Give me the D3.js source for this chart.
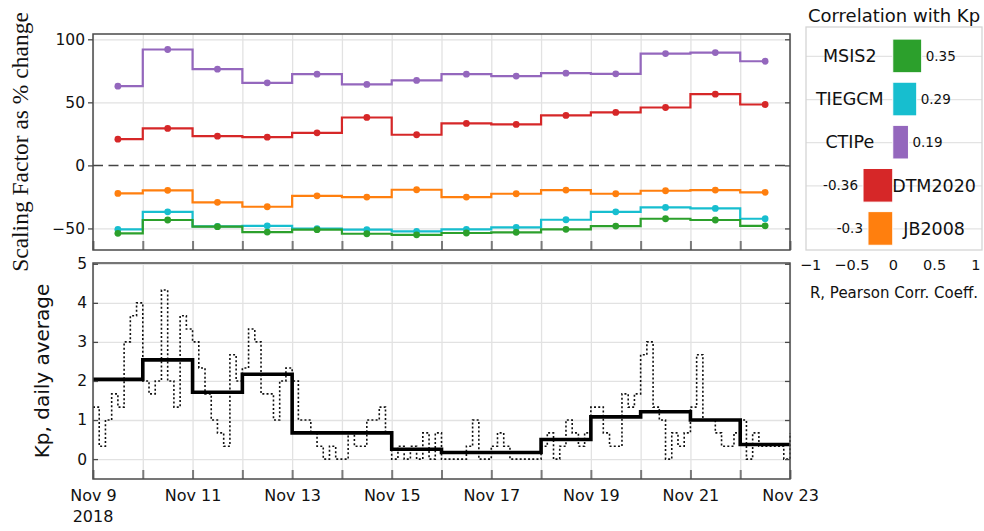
<!DOCTYPE html>
<html>
<head>
<meta charset="utf-8">
<script src="https://cdn.jsdelivr.net/npm/d3@7"></script>
<style>
  html, body { margin: 0; padding: 0; background: #fff; }
  svg { display: block; font-family: "DejaVu Sans", sans-serif; }
</style>
</head>
<body>
<svg id="chart" width="984" height="531"></svg>
<script>
// ---- data -------------------------------------------------------------
const days = ["2018-11-09", "2018-11-10", "2018-11-11", "2018-11-12", "2018-11-13",
              "2018-11-14", "2018-11-15", "2018-11-16", "2018-11-17", "2018-11-18",
              "2018-11-19", "2018-11-20", "2018-11-21", "2018-11-22"];
const endDay = "2018-11-23";

// daily scaling factor (% change) per model
const ctipe   = [62.8, 91.9, 76.3, 65.5, 72.3, 64.2, 67.4, 72.3, 70.8, 73.1, 72.6, 88.7, 89.5, 82.6];
const dtm2020 = [20.8, 29.3, 23.2, 22.4, 25.8, 38.0, 24.3, 33.3, 32.5, 39.6, 42.0, 45.9, 56.5, 48.3];
const jb2008  = [-22.2, -19.8, -29.3, -32.8, -24.1, -25.1, -19.3, -25.1, -22.5, -19.6, -22.5, -20.1, -19.6, -21.4];
const tiegcm  = [-50.7, -36.8, -48.3, -47.9, -50.2, -51.0, -52.3, -50.7, -49.1, -43.1, -36.8, -33.3, -34.1, -42.3];
const msis2   = [-53.9, -43.3, -48.6, -52.9, -51.0, -54.2, -55.1, -53.6, -53.1, -50.7, -48.1, -42.3, -43.3, -47.9];

// Kp daily average and 3-hourly Kp (8 values per day, last entry = Nov 23 00 UT)
const kpDaily = [2.04, 2.54, 1.71, 2.17, 0.67, 0.67, 0.25, 0.17, 0.17, 0.5, 1.08, 1.21, 1.0, 0.375];
const kp3h = [
  1.33, 0.33, 1.0, 1.67, 1.33, 3.0, 3.67, 4.0,
  2.0, 1.67, 2.0, 4.33, 2.0, 1.33, 3.67, 3.33,
  3.0, 2.33, 1.67, 1.0, 0.67, 0.33, 2.67, 2.0,
  2.33, 3.33, 3.0, 1.67, 1.67, 1.0, 2.0, 2.33,
  2.0, 1.0, 1.0, 0.67, 0.33, 0.0, 0.33, 0.0,
  0.0, 0.67, 0.33, 0.33, 1.0, 1.0, 1.33, 0.67,
  0.0, 0.33, 0.0, 0.33, 0.0, 0.67, 0.0, 0.67,
  0.0, 0.0, 0.0, 0.0, 0.33, 1.0, 0.0, 0.0,
  0.33, 0.67, 0.33, 0.0, 0.0, 0.0, 0.0, 0.0,
  0.33, 0.67, 0.0, 0.33, 1.0, 0.67, 0.33, 0.67,
  1.33, 1.33, 0.67, 0.33, 0.33, 1.67, 1.33, 1.67,
  2.67, 3.0, 1.33, 1.0, 0.0, 0.67, 0.33, 0.67,
  1.33, 2.67, 1.0, 1.0, 0.67, 0.33, 0.33, 0.67,
  1.0, 0.0, 0.67, 0.33, 0.33, 0.33, 0.33, 0.0,
  0.67
];

// correlation of each model with Kp
const corrModels = ["MSIS2", "TIEGCM", "CTIPe", "DTM2020", "JB2008"];
const corrValues = [0.35, 0.29, 0.19, -0.36, -0.3];
const corrLabels = ["0.35", "0.29", "0.19", "-0.36", "-0.3"];

const topTicks = [-50, 0, 50, 100];
const kpTicks = [0, 1, 2, 3, 4, 5];
const corrTicks = [-1, -0.5, 0, 0.5, 1];

const modelColors = {
  CTIPe: "#9467bd", DTM2020: "#d62728", JB2008: "#ff7f0e", TIEGCM: "#17becf", MSIS2: "#2ca02c"
};
const seriesOrder = [
  ["CTIPe", ctipe], ["DTM2020", dtm2020], ["JB2008", jb2008], ["TIEGCM", tiegcm], ["MSIS2", msis2]
];

// ---- layout ------------------------------------------------------------
const svg = d3.select("#chart");
const parse = d3.utcParse("%Y-%m-%d");
const dayDates = days.map(parse);
const t0 = dayDates[0], t1 = parse(endDay);

const L = 93, R = 790;
const topBox = { y0: 34, y1: 250 };
const botBox = { y0: 263, y1: 479 };

const x = d3.scaleUtc().domain([t0, t1]).range([L, R]);
const yTop = d3.scaleLinear().domain([-67.1, 104.2]).range([topBox.y1, topBox.y0]);
const yKp = d3.scaleLinear().domain([-0.51, 5.02]).range([botBox.y1, botBox.y0]);

const gridColor = "#e2e2e2";
const spineColor = "#4a4a4a";
const minusFmt = d => String(d).replace("-", "\u2212");

function grid(g, yScale, yVals, box) {
  g.append("g")
    .attr("transform", `translate(0,${box.y1})`)
    .call(d3.axisBottom(x).ticks(d3.utcDay.every(1)).tickSize(-(box.y1 - box.y0)).tickFormat(""))
    .call(a => a.select(".domain").remove())
    .call(a => a.selectAll("line").attr("stroke", gridColor).attr("stroke-width", 1.3));
  g.append("g")
    .attr("transform", `translate(${L},0)`)
    .call(d3.axisLeft(yScale).tickValues(yVals).tickSize(-(R - L)).tickFormat(""))
    .call(a => a.select(".domain").remove())
    .call(a => a.selectAll("line").attr("stroke", gridColor).attr("stroke-width", 1.3));
}

function dayTicks(g, box) {
  g.append("g")
    .attr("transform", `translate(0,${box.y1})`)
    .call(d3.axisTop(x).ticks(d3.utcDay.every(1)).tickSize(9).tickFormat(""))
    .call(a => a.select(".domain").remove())
    .call(a => a.selectAll("line").attr("stroke", "#7a7a7a").attr("stroke-width", 2));
}

function frame(g, box) {
  g.append("rect")
    .attr("x", L).attr("y", box.y0)
    .attr("width", R - L).attr("height", box.y1 - box.y0)
    .attr("fill", "none").attr("stroke", spineColor).attr("stroke-width", 1.5);
}

// ---- top panel: scaling factors ---------------------------------------
const gTop = svg.append("g");
grid(gTop, yTop, topTicks.filter(v => v !== 0), topBox);

gTop.append("line")
  .attr("x1", L).attr("x2", R)
  .attr("y1", yTop(0)).attr("y2", yTop(0))
  .attr("stroke", "#444").attr("stroke-width", 1.5).attr("stroke-dasharray", "10,5.5");

const stepLine = d3.line()
  .x(d => x(d3.utcHour.offset(d.date, 12)))
  .y(d => yTop(d.v))
  .curve(d3.curveStep);

seriesOrder.forEach(([name, vals]) => {
  const pts = vals.map((v, i) => ({ date: dayDates[i], v }));
  const col = modelColors[name];
  gTop.append("path").datum(pts)
    .attr("d", stepLine)
    .attr("fill", "none").attr("stroke", col).attr("stroke-width", 2.2);
  gTop.append("g").selectAll("circle").data(pts).join("circle")
    .attr("cx", d => x(d3.utcHour.offset(d.date, 12)))
    .attr("cy", d => yTop(d.v))
    .attr("r", 3.4).attr("fill", col);
});

dayTicks(gTop, topBox);
frame(gTop, topBox);

gTop.append("g")
  .attr("transform", `translate(${L},0)`)
  .call(d3.axisLeft(yTop).tickValues(topTicks).tickSize(5).tickPadding(3).tickFormat(minusFmt))
  .call(a => a.select(".domain").remove())
  .call(a => a.selectAll("line").attr("stroke", spineColor).attr("stroke-width", 1.3))
  .call(a => a.selectAll("text").attr("font-size", 15.5).attr("fill", "#111")
             .attr("font-family", "DejaVu Sans"));
gTop.append("g")
  .attr("transform", `translate(${R},0)`)
  .call(d3.axisLeft(yTop).tickValues(topTicks).tickSize(5).tickFormat(""))
  .call(a => a.select(".domain").remove())
  .call(a => a.selectAll("line").attr("stroke", spineColor).attr("stroke-width", 1.3));

svg.append("text")
  .attr("transform", `translate(28,${(topBox.y0 + topBox.y1) / 2}) rotate(-90)`)
  .attr("text-anchor", "middle")
  .attr("font-family", "Liberation Serif, serif")
  .attr("font-size", 23.5)
  .attr("fill", "#111")
  .text("Scaling Factor as % change");

// ---- bottom panel: Kp ------------------------------------------------
const gBot = svg.append("g");
grid(gBot, yKp, kpTicks, botBox);

const kpPts = kp3h.map((v, i) => ({ date: d3.utcHour.offset(t0, 3 * i), v }));
gBot.append("path").datum(kpPts)
  .attr("d", d3.line().x(d => x(d.date)).y(d => yKp(d.v)).curve(d3.curveStepAfter))
  .attr("fill", "none").attr("stroke", "#111").attr("stroke-width", 1.6)
  .attr("stroke-dasharray", "2,2.2");

const dailyPts = kpDaily.map((v, i) => ({ date: dayDates[i], v }));
dailyPts.push({ date: t1, v: kpDaily[kpDaily.length - 1] });
gBot.append("path").datum(dailyPts)
  .attr("d", d3.line().x(d => x(d.date)).y(d => yKp(d.v)).curve(d3.curveStepAfter))
  .attr("fill", "none").attr("stroke", "#000").attr("stroke-width", 3.6);

dayTicks(gBot, botBox);
frame(gBot, botBox);

gBot.append("g")
  .attr("transform", `translate(${L},0)`)
  .call(d3.axisLeft(yKp).tickValues(kpTicks).tickSizeInner(-5).tickSizeOuter(0).tickPadding(6)
        .tickFormat(d3.format("d")))
  .call(a => a.select(".domain").remove())
  .call(a => a.selectAll("line").attr("stroke", spineColor).attr("stroke-width", 1.3))
  .call(a => a.selectAll("text").attr("font-size", 15.5).attr("fill", "#111")
             .attr("font-family", "DejaVu Sans"));
gBot.append("g")
  .attr("transform", `translate(${R},0)`)
  .call(d3.axisLeft(yKp).tickValues(kpTicks).tickSize(5).tickFormat(""))
  .call(a => a.select(".domain").remove())
  .call(a => a.selectAll("line").attr("stroke", spineColor).attr("stroke-width", 1.3));

const labelDays = dayDates.filter((d, i) => i % 2 === 0).concat([t1]);
gBot.append("g")
  .attr("transform", `translate(0,${botBox.y1})`)
  .call(d3.axisBottom(x).tickValues(labelDays).tickSize(0).tickPadding(11)
        .tickFormat(d3.utcFormat("%b %-d")))
  .call(a => a.select(".domain").remove())
  .call(a => a.selectAll("text").attr("font-size", 16).attr("fill", "#111")
             .attr("font-family", "DejaVu Sans"));
svg.append("text")
  .attr("x", x(t0)).attr("y", 521.5)
  .attr("text-anchor", "middle").attr("font-size", 16).attr("fill", "#111")
  .text(d3.utcFormat("%Y")(t0));

svg.append("text")
  .attr("transform", `translate(48.5,${(botBox.y0 + botBox.y1) / 2}) rotate(-90)`)
  .attr("text-anchor", "middle")
  .attr("font-size", 20)
  .attr("fill", "#111")
  .text("Kp, daily average");

// ---- right panel: correlation bars -------------------------------------
const bBox = { x0: 806, x1: 982, y0: 27, y1: 250 };
const xb = d3.scaleLinear().domain([-1.05, 1.08]).range([bBox.x0, bBox.x1]);
const yb = d3.scaleLinear().domain([-0.67, 4.5]).range([bBox.y0, bBox.y1]);
const barH = 0.78;
const gBar = svg.append("g");

gBar.append("g")
  .attr("transform", `translate(${bBox.x0},0)`)
  .call(d3.axisLeft(yb).tickValues(d3.range(corrModels.length)).tickSize(-(bBox.x1 - bBox.x0)).tickFormat(""))
  .call(a => a.select(".domain").remove())
  .call(a => a.selectAll("line").attr("stroke", "#e3e3e3").attr("stroke-width", 1.3));

gBar.append("rect")
  .attr("x", bBox.x0).attr("y", bBox.y0)
  .attr("width", bBox.x1 - bBox.x0).attr("height", bBox.y1 - bBox.y0)
  .attr("fill", "none").attr("stroke", "#d4d4d4").attr("stroke-width", 1.3);

gBar.selectAll("rect.bar").data(corrModels).join("rect")
  .attr("class", "bar")
  .attr("x", (d, i) => xb(Math.min(0, corrValues[i])))
  .attr("width", (d, i) => Math.abs(xb(corrValues[i]) - xb(0)))
  .attr("y", (d, i) => yb(i - barH / 2))
  .attr("height", yb(barH) - yb(0))
  .attr("fill", d => modelColors[d])
  .attr("stroke", "#fff").attr("stroke-width", 1);

gBar.selectAll("text.name").data(corrModels).join("text")
  .attr("class", "name")
  .attr("x", (d, i) => xb(corrValues[i] >= 0 ? -0.52 : 0.5))
  .attr("y", (d, i) => yb(i) + 17.5 * 0.36)
  .attr("text-anchor", "middle")
  .attr("font-size", 17.5).attr("fill", "#111")
  .text(d => d);

gBar.selectAll("text.val").data(corrModels).join("text")
  .attr("class", "val")
  .attr("x", (d, i) => xb(corrValues[i]) + (corrValues[i] >= 0 ? 4 : -5))
  .attr("y", (d, i) => yb(i) + 13.5 * 0.36)
  .attr("text-anchor", (d, i) => corrValues[i] >= 0 ? "start" : "end")
  .attr("font-size", 13.5).attr("fill", "#111")
  .text((d, i) => corrLabels[i]);

gBar.append("g")
  .attr("transform", `translate(0,${bBox.y1})`)
  .call(d3.axisBottom(xb).tickValues(corrTicks).tickSize(0).tickPadding(10).tickFormat(minusFmt))
  .call(a => a.select(".domain").remove())
  .call(a => a.selectAll("text").attr("font-size", 14.5).attr("fill", "#111")
             .attr("font-family", "DejaVu Sans"));

gBar.append("text")
  .attr("x", (bBox.x0 + bBox.x1) / 2).attr("y", 22)
  .attr("text-anchor", "middle").attr("font-size", 18).attr("fill", "#111")
  .text("Correlation with Kp");

gBar.append("text")
  .attr("x", (bBox.x0 + bBox.x1) / 2).attr("y", 298)
  .attr("text-anchor", "middle").attr("font-size", 15).attr("fill", "#111")
  .text("R, Pearson Corr. Coeff.");
</script>
</body>
</html>
